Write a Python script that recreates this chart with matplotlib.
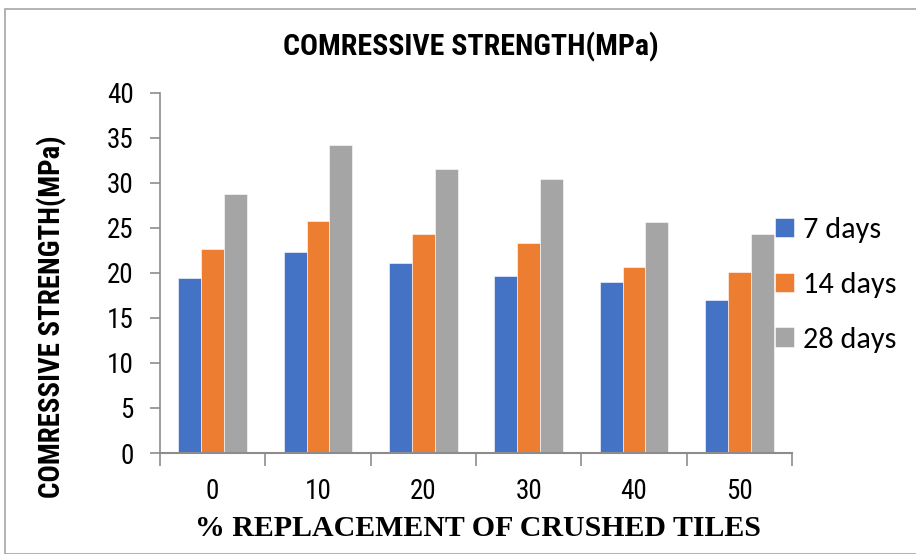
import matplotlib
matplotlib.use("Agg")
import matplotlib.pyplot as plt
import numpy as np
from matplotlib.patches import Rectangle
from matplotlib import font_manager as fm

categories = ["0", "10", "20", "30", "40", "50"]
series_names = ["7 days", "14 days", "28 days"]
days7 = [19.4, 22.3, 21.1, 19.7, 19.0, 17.0]
days14 = [22.6, 25.8, 24.3, 23.3, 20.6, 20.1]
days28 = [28.8, 34.2, 31.5, 30.4, 25.6, 24.3]
colors = ["#4472C4", "#ED7D31", "#A5A5A5"]
yticks = [0, 5, 10, 15, 20, 25, 30, 35, 40]

available = set(f.name for f in fm.fontManager.ttflist)


def pick(cands, fallback):
    for c in cands:
        if c in available:
            return [c, fallback]
    return [fallback]


narrow = pick(["Liberation Sans Narrow", "Arial Narrow", "Roboto Condensed",
               "PT Sans Narrow", "Archivo Narrow", "Open Sans Condensed",
               "Fira Sans Condensed", "IBM Plex Sans Condensed", "Liberation Sans"],
              "DejaVu Sans")
calibri = pick(["Carlito", "Calibri", "Liberation Sans"], "DejaVu Sans")
times = pick(["Liberation Serif", "Tinos", "Times New Roman"], "DejaVu Serif")

fig = plt.figure(figsize=(9.16, 5.54), dpi=100)
fig.patches.append(Rectangle((5/916, 0), 1.0, 1 - 9/554, transform=fig.transFigure,
                             fill=False, edgecolor="#A6A6A6", linewidth=1.2))
ax = fig.add_axes([160/916, 1 - 453/554, (792-160)/916, (453-92.7)/554])

x = np.arange(len(categories))
w = 0.218
for i, (vals, name) in enumerate(zip([days7, days14, days28], series_names)):
    ax.bar(x + (i - 1) * w, vals, width=w, color=colors[i], label=name,
           edgecolor="white", linewidth=0.4)

ax.set_xlim(-0.5, len(categories) - 0.5)
ax.set_ylim(0, 40)
ax.set_yticks(yticks)
ax.set_yticklabels([str(v) for v in yticks], family=narrow, fontsize=19.5)
ax.set_xticks(x)
ax.set_xticklabels(categories, family=narrow, fontsize=19.5)
ax.set_xticks(np.arange(-0.5, len(categories), 1.0), minor=True)
ax.tick_params(axis="x", which="major", length=0, pad=18, colors="#000000")
ax.tick_params(axis="x", which="minor", length=9, width=1.2, color="#8C8C8C")
ax.tick_params(axis="y", length=7, width=1.2, color="#8C8C8C", pad=12)
for s in ["top", "right"]:
    ax.spines[s].set_visible(False)
ax.spines["left"].set_color("#8C8C8C")
ax.spines["bottom"].set_color("#8C8C8C")
ax.spines["left"].set_linewidth(1.2)
ax.spines["bottom"].set_linewidth(1.5)

fig.text(471/916, 1 - 47/554, "COMRESSIVE STRENGTH(MPa)", family=narrow,
         fontweight="bold", fontsize=21.5, ha="center", va="center")
fig.text(478/916, 1 - 529/554, "% REPLACEMENT OF CRUSHED TILES",
         family=times, fontweight="bold",
         fontsize=21.5, ha="center", va="center")
fig.text(52/916, 1 - 317/554, "COMRESSIVE STRENGTH(MPa)", family=narrow,
         fontweight="bold", fontsize=20.8, rotation=90, ha="center", va="center")

ax.legend(loc="center left", bbox_to_anchor=(775/916, 1 - 285/554),
          bbox_transform=fig.transFigure, frameon=False,
          prop={"family": calibri, "size": 21.8},
          handlelength=0.62, handleheight=0.62, handletextpad=0.3,
          labelspacing=0.95, borderaxespad=0, borderpad=0)

fig.savefig("out.png", dpi=100)
